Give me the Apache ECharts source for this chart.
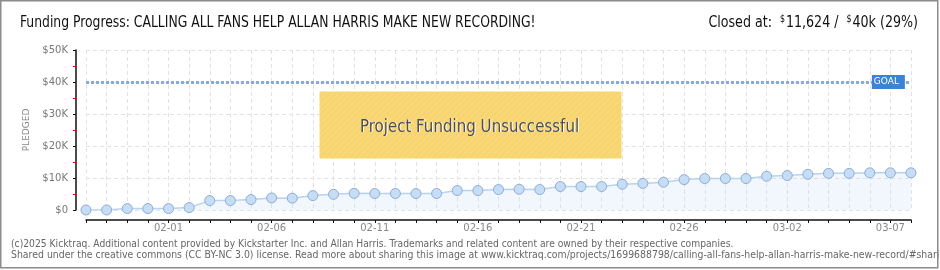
<!DOCTYPE html>
<html><head><meta charset="utf-8">
<script src="https://cdn.jsdelivr.net/npm/echarts@6/dist/echarts.min.js"></script>
<style>html,body{margin:0;padding:0;background:#fff}#c{width:940px;height:270px}</style>
</head><body><div id="c"></div><script>
const categories = ['01-28','01-29','01-30','01-31','02-01','02-02','02-03','02-04','02-05','02-06','02-07','02-08','02-09','02-10','02-11','02-12','02-13','02-14','02-15','02-16','02-17','02-18','02-19','02-20','02-21','02-22','02-23','02-24','02-25','02-26','02-27','02-28','03-01','03-01','03-02','03-03','03-04','03-05','03-06','03-07','03-08'];
const pledged = [0,0,440,440,440,750,2940,2940,3260,3760,3700,4500,4900,5200,5150,5150,5150,5150,6070,6070,6390,6480,6390,7330,7330,7330,8050,8300,8670,9500,9830,9830,9830,10550,10770,11150,11450,11450,11624,11624,11624];
const goal = 40000;
const yMax = 50000, yStep = 10000;
const titleText = 'Funding Progress: CALLING ALL FANS HELP ALLAN HARRIS MAKE NEW RECORDING!';
const closedAmount = '11,624', goalShort = '40k', percent = '29%';
const footer1 = '(c)2025 Kicktraq. Additional content provided by Kickstarter Inc. and Allan Harris. Trademarks and related content are owned by their respective companies.';
const footer2 = 'Shared under the creative commons (CC BY-NC 3.0) license. Read more about sharing this image at www.kicktraq.com/projects/1699688798/calling-all-fans-help-allan-harris-make-new-record/#sharing';

const condensed = "'DejaVu Sans Condensed','DejaVu Sans',sans-serif";
const small = "'DejaVu Sans',sans-serif";

function stripes(){
  const c=document.createElement('canvas');c.width=c.height=6;
  const g=c.getContext('2d');g.fillStyle='#f7d46e';g.fillRect(0,0,6,6);
  g.strokeStyle='#f9da82';g.lineWidth=1.2;
  g.beginPath();g.moveTo(0,6);g.lineTo(6,0);g.moveTo(-1,1);g.lineTo(1,-1);g.moveTo(5,7);g.lineTo(7,5);g.stroke();
  return c;
}

const chart = echarts.init(document.getElementById('c'));
chart.setOption({
  animation:false,
  backgroundColor:'#fff',
  grid:{left:86,right:29,top:50,bottom:60},
  xAxis:{type:'category',data:categories,boundaryGap:false,offset:10,
    axisLine:{onZero:false,lineStyle:{color:'#111',width:1.5}},
    axisTick:{show:true,interval:0,length:3,lineStyle:{color:'#111',width:1}},
    axisLabel:{interval:(i)=>i%5===4,color:'#888',fontSize:10,fontFamily:small,margin:3},
    splitLine:{show:true,interval:0,lineStyle:{type:[4,3],color:'#e2e2e2'}}
  },
  yAxis:{type:'value',min:0,max:yMax,interval:yStep,offset:10,
    name:'PLEDGED',nameLocation:'middle',nameGap:40,
    nameTextStyle:{color:'#888',fontSize:9,fontFamily:small},
    axisLine:{show:true,lineStyle:{color:'#111',width:1.5}},
    axisTick:{show:true,length:3,lineStyle:{color:'#111'}},
    minorTick:{show:true,splitNumber:2,length:3,lineStyle:{color:'#e00'}},
    axisLabel:{color:'#777',fontSize:10,fontFamily:small,margin:8,formatter:v=>v===0?'$0':'$'+(v/1000)+'K'},
    splitLine:{lineStyle:{type:[4,3],color:'#e2e2e2'}}
  },
  series:[{
    type:'line',data:pledged,symbol:'circle',symbolSize:10,
    itemStyle:{color:'#c6ddf6',borderColor:'#90acd2',borderWidth:1},
    lineStyle:{color:'#b6d3f2',width:1.5},
    areaStyle:{color:'rgba(200,222,247,0.35)'},
    markLine:{silent:true,symbol:'none',data:[{yAxis:goal}],label:{show:false},
      lineStyle:{type:[3,2],color:'#89abda',width:3}},
    markPoint:{silent:true,data:[{coord:[39,goal]}],symbol:'rect',symbolSize:[33,14],symbolOffset:[-2,0],
      itemStyle:{color:'#3a83d5'},
      label:{show:true,formatter:'GOAL',color:'#fff',fontSize:9,fontFamily:small,offset:[-2,0]}}
  }],
  graphic:[
    {type:'text',z:100,x:20,y:23,scaleX:0.86,originX:0,originY:0,
     style:{text:titleText,fill:'#111',font:'16px '+condensed,verticalAlign:'middle'}},
    {type:'text',z:100,x:918,y:23,scaleX:0.88,originX:0,originY:0,
     style:{text:'{a|Closed at:  }{s|$}{a|'+closedAmount+' /  }{s|$}{a|'+goalShort+' ('+percent+')}',align:'right',verticalAlign:'middle',
       rich:{a:{fontFamily:condensed,fontSize:16,fill:'#111'},s:{fontFamily:condensed,fontSize:10,fill:'#111',padding:[0,1,7,0]}}}},
    {type:'rect',z:100,shape:{x:320,y:92,width:301,height:66},style:{fill:{image:stripes(),repeat:'repeat'},stroke:'#f3d868',lineWidth:1}},
    {type:'text',z:101,x:470.5,y:127.8,scaleX:0.93,originX:0,originY:0,style:{text:'Project Funding Unsuccessful',fill:'#fff',font:'18px '+condensed,align:'center',verticalAlign:'middle'}},
    {type:'text',z:102,x:469.5,y:127,scaleX:0.93,originX:0,originY:0,style:{text:'Project Funding Unsuccessful',fill:'#4e4e4e',font:'18px '+condensed,align:'center',verticalAlign:'middle'}},
    {type:'text',z:100,x:11,y:244,scaleX:0.92,originX:0,originY:0,style:{text:footer1,fill:'#666',font:'10px '+small,verticalAlign:'middle'}},
    {type:'text',z:100,x:11,y:255,scaleX:0.935,originX:0,originY:0,style:{text:footer2,fill:'#666',font:'10px '+small,verticalAlign:'middle'}},
    {type:'rect',z:200,shape:{x:0.75,y:0.75,width:937,height:267},style:{fill:'none',stroke:'#8c8c8c',lineWidth:1.5}}
  ]
});
</script></body></html>
